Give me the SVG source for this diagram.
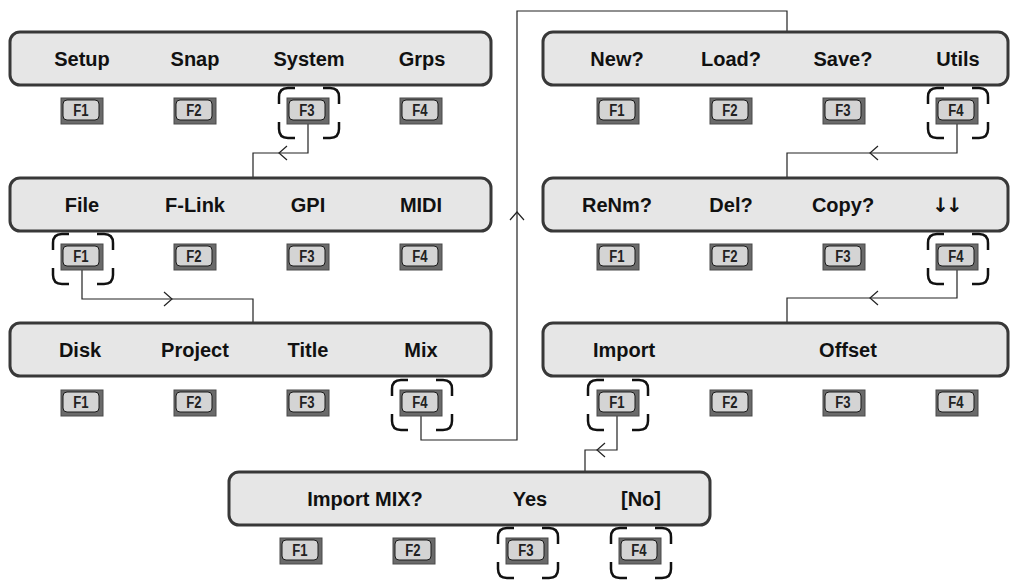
<svg xmlns="http://www.w3.org/2000/svg" width="1016" height="581" viewBox="0 0 1016 581">
<defs>
<style>
.panel{fill:#e6e6e6;stroke:#383838;stroke-width:3}
.lbl{font-family:"Liberation Sans",Arial,sans-serif;font-weight:bold;font-size:20px;fill:#111;text-anchor:middle}
.arr{font-family:"DejaVu Sans",sans-serif;font-weight:bold;font-size:20px;fill:#111;text-anchor:middle;letter-spacing:-3px}
.ko{fill:#6a6a6a;stroke:#4a4a4a;stroke-width:1}
.ki{fill:#d4d4d4;stroke:#1a1a1a;stroke-width:1}
.kt{font-family:"Liberation Sans",Arial,sans-serif;font-weight:bold;font-size:16px;fill:#222;text-anchor:middle}
.br{fill:none;stroke:#111;stroke-width:2.5}
.ln{fill:none;stroke:#222;stroke-width:1.2}
</style>
<g id="key">
<rect class="ko" x="0" y="0" width="42" height="26"/>
<rect class="ki" x="2" y="2" width="36" height="20" rx="4"/>
</g>
<path id="brk" class="br" d="M0,17 V10 Q0,1 9,1 H16 M44,1 H51 Q60,1 60,10 V17 M60,35 V42 Q60,51 51,51 H44 M16,51 H9 Q0,51 0,42 V35"/>
</defs>
<rect width="1016" height="581" fill="#fff"/>

<g id="connectors">
<path class="ln" d="M308,124 V153 H253 V178"/>
<path class="ln" d="M287,146 L279,153 L287,160"/>
<path class="ln" d="M82,270 V299 H253 V323"/>
<path class="ln" d="M164,292 L172,299 L164,306"/>
<path class="ln" d="M421,416 V440 H517 V11 H787 V33"/>
<path class="ln" d="M510,220 L517,212 L524,220"/>
<path class="ln" d="M957,124 V153 H787 V178"/>
<path class="ln" d="M878,146 L870,153 L878,160"/>
<path class="ln" d="M957,270 V298 H787 V323"/>
<path class="ln" d="M878,291 L870,298 L878,305"/>
<path class="ln" d="M617,416 V450 H585 V472"/>
<path class="ln" d="M605,443 L597,450 L605,457"/>
</g>

<g id="panel-main">
<rect class="panel" x="10" y="32" width="481" height="53" rx="10"/>
<text class="lbl" x="82" y="66">Setup</text>
<text class="lbl" x="195" y="66">Snap</text>
<text class="lbl" x="309" y="66">System</text>
<text class="lbl" x="422" y="66">Grps</text>
<use href="#key" x="61" y="98"/><text class="kt" transform="translate(81,116) scale(0.82,1)">F1</text>
<use href="#key" x="174" y="98"/><text class="kt" transform="translate(194,116) scale(0.82,1)">F2</text>
<use href="#key" x="287" y="98"/><text class="kt" transform="translate(307,116) scale(0.82,1)">F3</text>
<use href="#key" x="400" y="98"/><text class="kt" transform="translate(420,116) scale(0.82,1)">F4</text>
<use href="#brk" x="279" y="87"/>
</g>

<g id="panel-system">
<rect class="panel" x="10" y="178" width="481" height="53" rx="10"/>
<text class="lbl" x="82" y="212">File</text>
<text class="lbl" x="195" y="212">F-Link</text>
<text class="lbl" x="308" y="212">GPI</text>
<text class="lbl" x="421" y="212">MIDI</text>
<use href="#key" x="61" y="244"/><text class="kt" transform="translate(81,262) scale(0.82,1)">F1</text>
<use href="#key" x="174" y="244"/><text class="kt" transform="translate(194,262) scale(0.82,1)">F2</text>
<use href="#key" x="287" y="244"/><text class="kt" transform="translate(307,262) scale(0.82,1)">F3</text>
<use href="#key" x="400" y="244"/><text class="kt" transform="translate(420,262) scale(0.82,1)">F4</text>
<use href="#brk" x="53" y="233"/>
</g>

<g id="panel-file">
<rect class="panel" x="10" y="323" width="481" height="53" rx="10"/>
<text class="lbl" x="80" y="357">Disk</text>
<text class="lbl" x="195" y="357">Project</text>
<text class="lbl" x="308" y="357">Title</text>
<text class="lbl" x="421" y="357">Mix</text>
<use href="#key" x="61" y="390"/><text class="kt" transform="translate(81,408) scale(0.82,1)">F1</text>
<use href="#key" x="174" y="390"/><text class="kt" transform="translate(194,408) scale(0.82,1)">F2</text>
<use href="#key" x="287" y="390"/><text class="kt" transform="translate(307,408) scale(0.82,1)">F3</text>
<use href="#key" x="400" y="390"/><text class="kt" transform="translate(420,408) scale(0.82,1)">F4</text>
<use href="#brk" x="392" y="379"/>
</g>

<g id="panel-mix">
<rect class="panel" x="543" y="32" width="465" height="53" rx="10"/>
<text class="lbl" x="617" y="66">New?</text>
<text class="lbl" x="731" y="66">Load?</text>
<text class="lbl" x="843" y="66">Save?</text>
<text class="lbl" x="958" y="66">Utils</text>
<use href="#key" x="597" y="98"/><text class="kt" transform="translate(617,116) scale(0.82,1)">F1</text>
<use href="#key" x="710" y="98"/><text class="kt" transform="translate(730,116) scale(0.82,1)">F2</text>
<use href="#key" x="823" y="98"/><text class="kt" transform="translate(843,116) scale(0.82,1)">F3</text>
<use href="#key" x="936" y="98"/><text class="kt" transform="translate(956,116) scale(0.82,1)">F4</text>
<use href="#brk" x="928" y="87"/>
</g>

<g id="panel-utils">
<rect class="panel" x="543" y="178" width="465" height="53" rx="10"/>
<text class="lbl" x="617" y="212">ReNm?</text>
<text class="lbl" x="731" y="212">Del?</text>
<text class="lbl" x="843" y="212">Copy?</text>
<text class="arr" x="946" y="212">↓↓</text>
<use href="#key" x="597" y="244"/><text class="kt" transform="translate(617,262) scale(0.82,1)">F1</text>
<use href="#key" x="710" y="244"/><text class="kt" transform="translate(730,262) scale(0.82,1)">F2</text>
<use href="#key" x="823" y="244"/><text class="kt" transform="translate(843,262) scale(0.82,1)">F3</text>
<use href="#key" x="936" y="244"/><text class="kt" transform="translate(956,262) scale(0.82,1)">F4</text>
<use href="#brk" x="928" y="233"/>
</g>

<g id="panel-more">
<rect class="panel" x="543" y="323" width="465" height="53" rx="10"/>
<text class="lbl" x="624" y="357">Import</text>
<text class="lbl" x="848" y="357">Offset</text>
<use href="#key" x="597" y="390"/><text class="kt" transform="translate(617,408) scale(0.82,1)">F1</text>
<use href="#key" x="710" y="390"/><text class="kt" transform="translate(730,408) scale(0.82,1)">F2</text>
<use href="#key" x="823" y="390"/><text class="kt" transform="translate(843,408) scale(0.82,1)">F3</text>
<use href="#key" x="936" y="390"/><text class="kt" transform="translate(956,408) scale(0.82,1)">F4</text>
<use href="#brk" x="588" y="379"/>
</g>

<g id="panel-import">
<rect class="panel" x="229" y="472" width="481" height="53" rx="10"/>
<text class="lbl" x="365" y="506">Import MIX?</text>
<text class="lbl" x="530" y="506">Yes</text>
<text class="lbl" x="641" y="506">[No]</text>
<use href="#key" x="280" y="538"/><text class="kt" transform="translate(300,556) scale(0.82,1)">F1</text>
<use href="#key" x="393" y="538"/><text class="kt" transform="translate(413,556) scale(0.82,1)">F2</text>
<use href="#key" x="506" y="538"/><text class="kt" transform="translate(526,556) scale(0.82,1)">F3</text>
<use href="#key" x="619" y="538"/><text class="kt" transform="translate(639,556) scale(0.82,1)">F4</text>
<use href="#brk" x="498" y="527"/>
<use href="#brk" x="611" y="527"/>
</g>
</svg>
